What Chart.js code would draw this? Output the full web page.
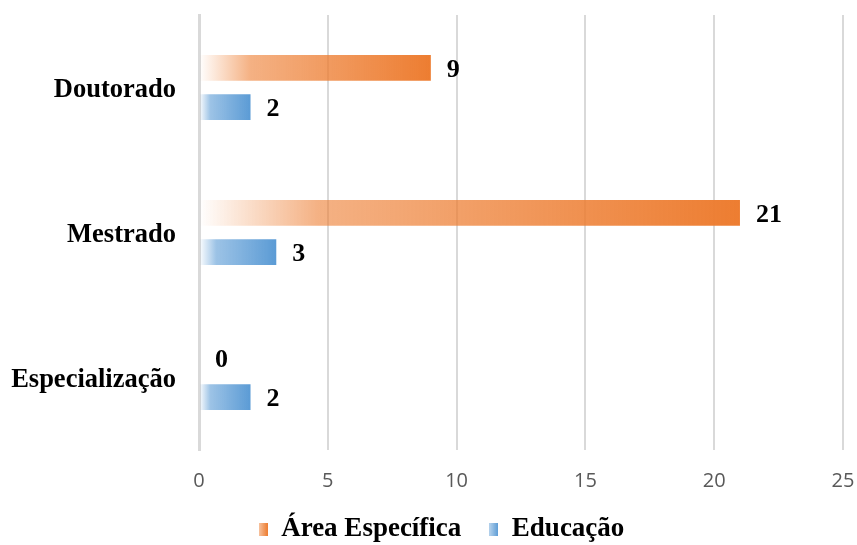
<!DOCTYPE html>
<html>
<head>
<meta charset="utf-8">
<script src="https://cdn.jsdelivr.net/npm/chart.js@4.4.0/dist/chart.umd.min.js"></script>
<style>
  body { margin: 0; background: #fff; }
  #wrap { width: 857px; height: 545px; }
</style>
</head>
<body>
<div id="wrap"><canvas id="chartBar"></canvas></div>
<script>
// data
var categorias = ["Doutorado", "Mestrado", "Especialização"];
var areaEspecifica = [9, 21, 0];
var educacao = [2, 3, 2];
var xTicks = [0, 5, 10, 15, 20, 25];

var laranja = [237, 125, 49];
var azul = [91, 155, 213];
var serif = "'Liberation Serif', 'Times New Roman', serif";

function rgba(c, a) {
    return "rgba(" + c[0] + ", " + c[1] + ", " + c[2] + ", " + a + ")";
}

// gradient along each bar, pale at the left, solid at the end
function barGradient(cor) {
    return function (context) {
        var chart = context.chart;
        if (!chart.chartArea) return rgba(cor, 1);
        var xs = chart.scales.x;
        var x0 = xs.getPixelForValue(0);
        var x1 = xs.getPixelForValue(context.raw);
        if (x1 - x0 < 1) return rgba(cor, 1);
        var g = chart.ctx.createLinearGradient(x0, 0, x1, 0);
        g.addColorStop(0, rgba(cor, 0));
        g.addColorStop(0.22, rgba(cor, 0.6));
        g.addColorStop(1, rgba(cor, 1));
        return g;
    };
}

function legendMarker(cor) {
    var c = document.createElement("canvas");
    c.width = 9;
    c.height = 13;
    var x = c.getContext("2d");
    var g = x.createLinearGradient(0, 0, 9, 0);
    g.addColorStop(0, rgba(cor, 0.45));
    g.addColorStop(1, rgba(cor, 1));
    x.fillStyle = g;
    x.fillRect(0, 0, 9, 13);
    return c;
}

var valueLabels = {
    id: "valueLabels",
    afterDatasetsDraw: function (chart) {
        var ctx = chart.ctx;
        ctx.save();
        ctx.font = "bold 26px " + serif;
        ctx.fillStyle = "#000";
        ctx.textAlign = "left";
        ctx.textBaseline = "middle";
        chart.data.datasets.forEach(function (ds, i) {
            var meta = chart.getDatasetMeta(i);
            meta.data.forEach(function (bar, j) {
                ctx.fillText(String(ds.data[j]), bar.x + 16, bar.y + 2);
            });
        });
        ctx.restore();
    }
};

// legend sits a bit right of the canvas centre in the original
var legendShift = {
    id: "legendShift",
    afterLayout: function (chart) {
        chart.legend.left += 20;
        chart.legend.right += 20;
    }
};

var ctx = document.getElementById("chartBar").getContext("2d");

const chartBar = new Chart(ctx, {
    type: "bar",
    data: {
    labels: categorias,
    datasets: [
        {
        label: "Área Específica",
        data: areaEspecifica,
        backgroundColor: barGradient(laranja),
        pointStyle: legendMarker(laranja),
        categoryPercentage: 0.54,
        barPercentage: 0.66,
        },
        {
        label: "Educação",
        data: educacao,
        backgroundColor: barGradient(azul),
        pointStyle: legendMarker(azul),
        categoryPercentage: 0.54,
        barPercentage: 0.66,
        },
    ],
    },
    options: {
    indexAxis: "y",
    responsive: true,
    maintainAspectRatio: false,
    animation: false,
    layout: {
        padding: { top: 15, right: 14, left: 0, bottom: -8 },
    },
    plugins: {
        legend: {
        position: "bottom",
        labels: {
            usePointStyle: true,
            boxWidth: 9,
            boxHeight: 13,
            padding: 28,
            color: "#000",
            font: { family: serif, size: 27, weight: "bold", lineHeight: 1 },
        },
        },
        tooltip: { enabled: false },
    },
    scales: {
        x: {
        min: 0,
        max: 25,
        afterBuildTicks: function (scale) {
            scale.ticks = xTicks.map(function (v) { return { value: v }; });
        },
        afterFit: function (scale) {
            scale.height = 38;
            scale.paddingLeft = 0;
            scale.paddingRight = 0;
        },
        grid: {
            color: "#d9d9d9",
            lineWidth: 2,
            drawTicks: false,
        },
        border: { display: false },
        ticks: {
            color: "#595959",
            padding: 19,
            font: { family: "'Open Sans', sans-serif", size: 20 },
        },
        },
        y: {
        afterFit: function (scale) {
            scale.width = 199;
            scale.paddingTop = 0;
            scale.paddingBottom = 0;
        },
        grid: { display: false, drawTicks: false },
        border: { display: true, color: "#d9d9d9", width: 3 },
        ticks: {
            color: "#000",
            padding: 23,
            labelOffset: 3,
            font: { family: serif, size: 26.5, weight: "bold" },
        },
        },
    },
    },
    plugins: [valueLabels, legendShift],
});
</script>
</body>
</html>
